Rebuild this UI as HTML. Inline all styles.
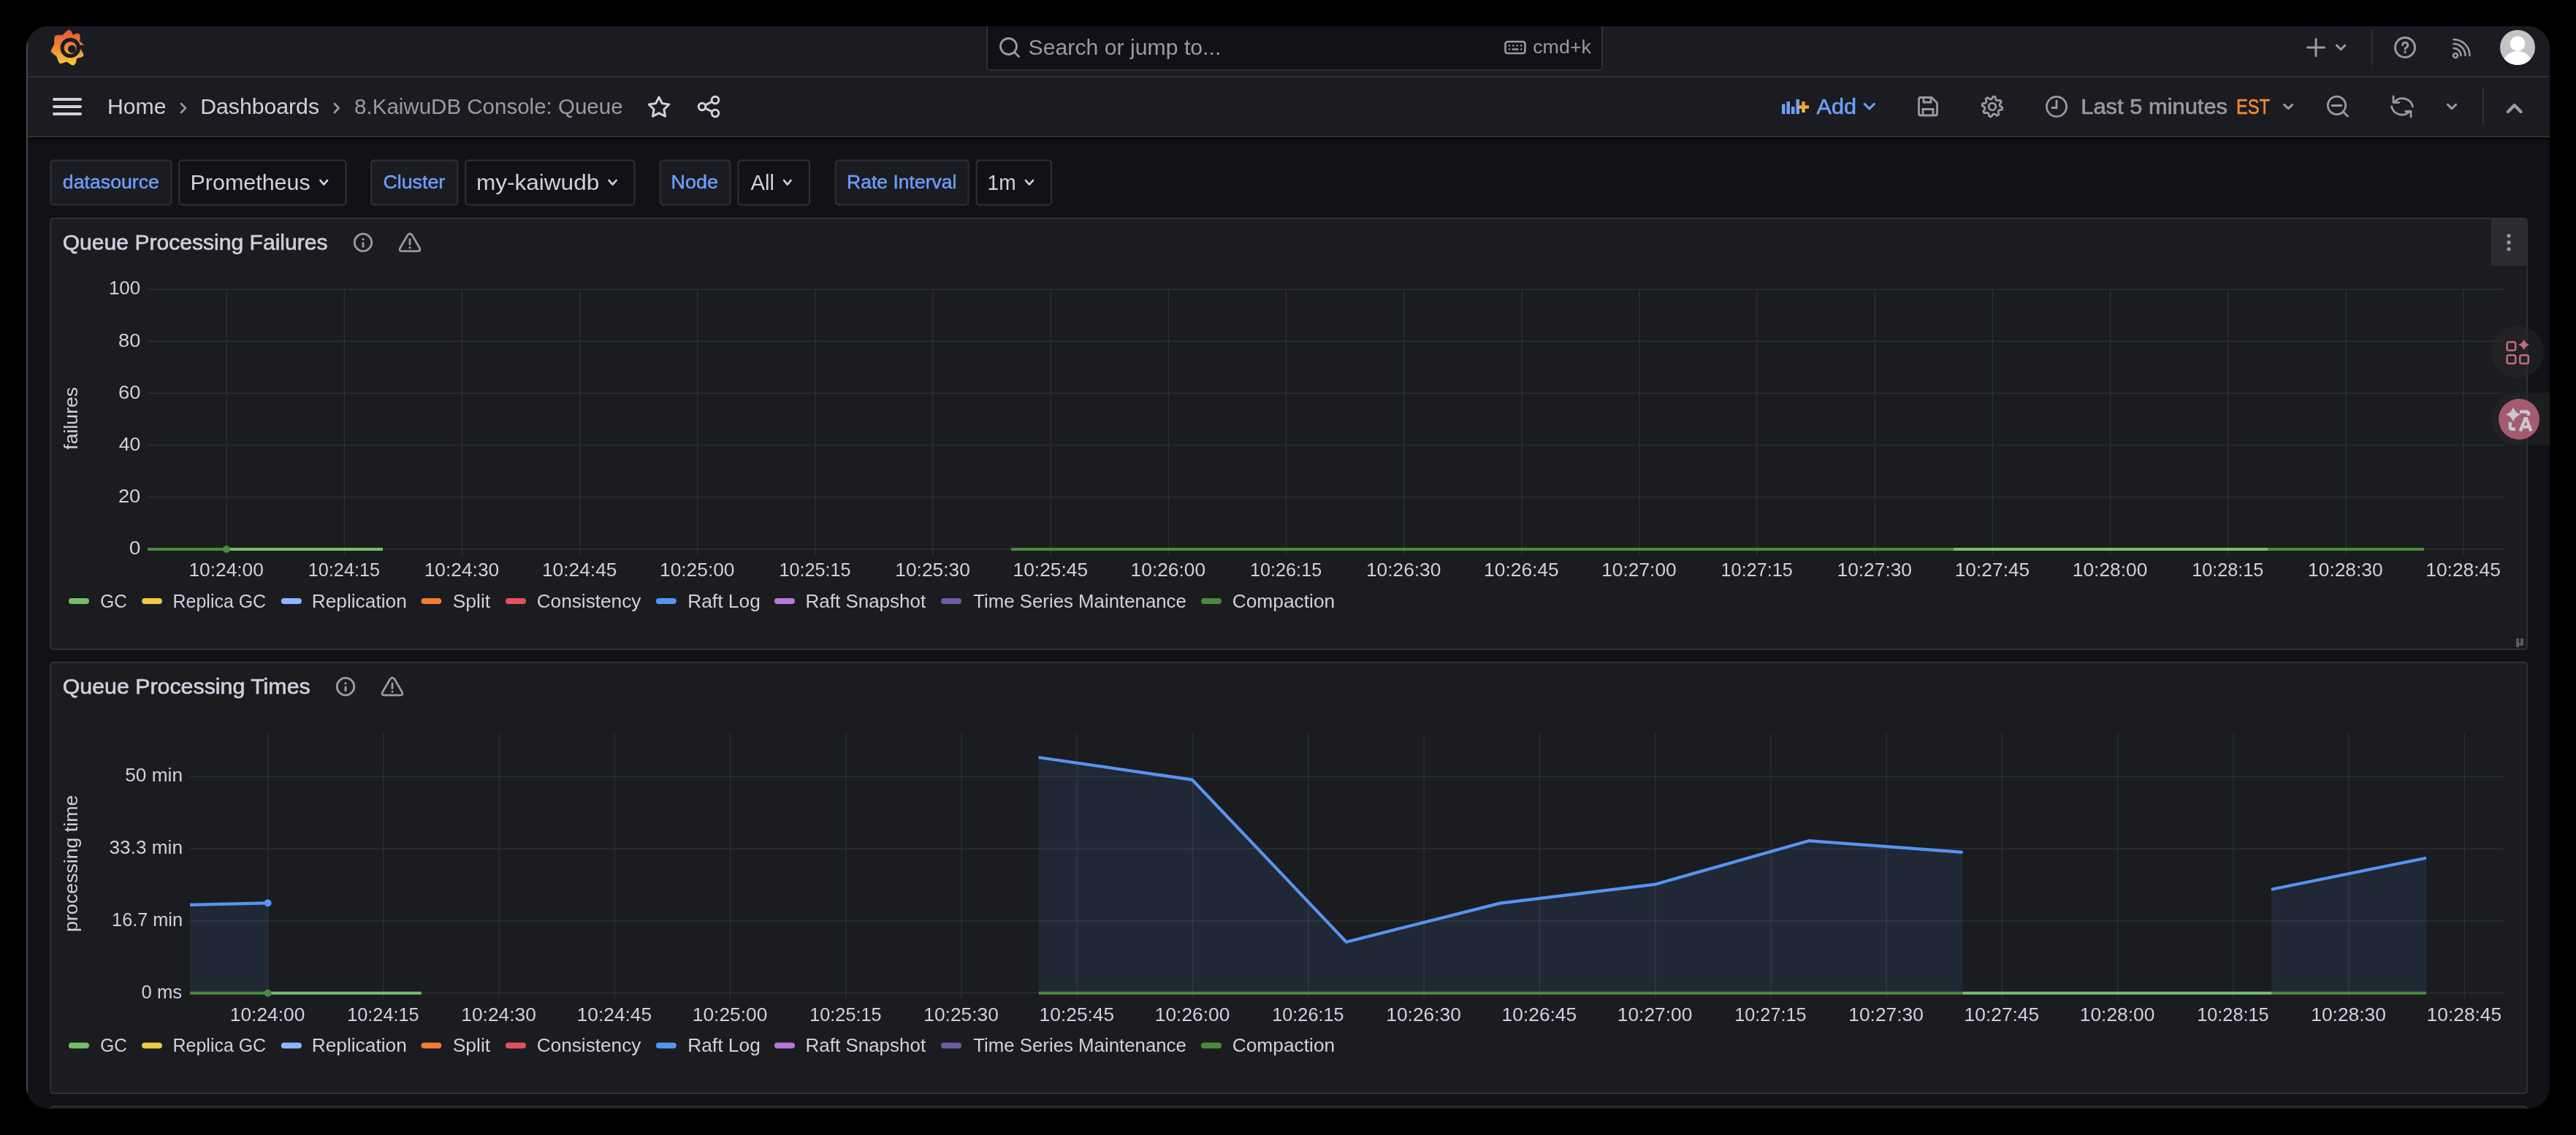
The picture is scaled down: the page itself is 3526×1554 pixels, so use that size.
<!DOCTYPE html>
<html><head><meta charset="utf-8"><style>
html,body{margin:0;padding:0;background:#000;overflow:hidden;}
svg{display:block;will-change:transform;font-family:"Liberation Sans",sans-serif;}
</style></head><body>
<svg width="3526" height="1554" viewBox="0 0 3526 1554">
<rect x="0" y="0" width="3526" height="1554" fill="#000000"/>
<defs><clipPath id="win"><rect x="36" y="36" width="3454" height="1482" rx="30" ry="30"/></clipPath><linearGradient id="logo" x1="0" y1="0" x2="0" y2="1"><stop offset="0" stop-color="#e4553a"/><stop offset="0.55" stop-color="#ef8f37"/><stop offset="1" stop-color="#f4cd3f"/></linearGradient><linearGradient id="addplus" x1="0" y1="0" x2="0" y2="1"><stop offset="0" stop-color="#f08a3a"/><stop offset="1" stop-color="#f5c33a"/></linearGradient><linearGradient id="shadow" x1="0" y1="0" x2="0" y2="1"><stop offset="0" stop-color="#000" stop-opacity="0.75"/><stop offset="0.4" stop-color="#000" stop-opacity="0.25"/><stop offset="1" stop-color="#000" stop-opacity="0"/></linearGradient></defs>
<g clip-path="url(#win)">
<rect x="36" y="36" width="3454" height="1482" fill="#111217"/>
<rect x="36" y="36" width="3454" height="150" fill="#1b1c21"/>
<rect x="36" y="104" width="3454" height="2" fill="#2f3035"/>
<rect x="36" y="186" width="3454" height="2" fill="#2f3035"/>
<rect x="36" y="188" width="3454" height="10" fill="url(#shadow)"/>
<rect x="36" y="36" width="2" height="1482" fill="#47474d"/>
<path d="M91.7 42.5 L94.6 41.1 L97.3 43.0 L99.6 48.4 L105.0 46.2 L108.2 46.7 L109.3 49.8 L108.7 56.5 L112.8 60.1 L114.8 62.4 L113.5 65.1 L110.7 68.6 L113.6 73.2 L113.9 76.4 L111.2 78.1 L104.8 79.4 L103.2 86.4 L101.1 89.0 L97.8 88.4 L91.4 84.0 L85.0 86.2 L81.8 86.4 L80.2 83.7 L77.9 76.9 L72.3 72.9 L70.1 70.7 L71.1 67.7 L74.7 60.6 L74.9 52.3 L75.6 49.2 L78.7 48.4 L86.0 48.2 Z" fill="url(#logo)" stroke="url(#logo)" stroke-width="1" stroke-linejoin="round"/>
<circle cx="96.3" cy="65.5" r="11.2" fill="none" stroke="#1b1c21" stroke-width="5.2"/>
<path d="M107 62 L115 61.5 L115 68 L107 67 Z" fill="#1b1c21"/>
<circle cx="98.4" cy="67.2" r="5.5" fill="#1b1c21"/>
<path d="M101 70 L104 75 L106 71 Z" fill="#1b1c21"/>
<rect x="1351" y="20" width="842" height="76" rx="4" fill="#111217" stroke="#2f3035" stroke-width="2"/>
<circle cx="1380.5" cy="63.5" r="11" fill="none" stroke="#9a9aa6" stroke-width="2.8"/>
<line x1="1388.5" y1="71.5" x2="1394.5" y2="77.5" stroke="#9a9aa6" stroke-width="2.8" stroke-linecap="round"/>
<text x="1407.6" y="75.4" font-size="29.5" fill="#9a9aa6" textLength="263.7" lengthAdjust="spacingAndGlyphs" >Search or jump to...</text>
<rect x="2060.5" y="57" width="27" height="16" rx="3" fill="none" stroke="#9a9aa6" stroke-width="2.6"/>
<circle cx="2066.0" cy="62.5" r="1.3" fill="#9a9aa6"/>
<circle cx="2071.4" cy="62.5" r="1.3" fill="#9a9aa6"/>
<circle cx="2076.8" cy="62.5" r="1.3" fill="#9a9aa6"/>
<circle cx="2082.2" cy="62.5" r="1.3" fill="#9a9aa6"/>
<circle cx="2066" cy="67.5" r="1.3" fill="#9a9aa6"/><circle cx="2082.3" cy="67.5" r="1.3" fill="#9a9aa6"/>
<line x1="2070.5" y1="67.5" x2="2077.5" y2="67.5" stroke="#9a9aa6" stroke-width="2.5" stroke-linecap="round"/>
<text x="2098.2" y="73.0" font-size="25.0" fill="#9a9aa6" textLength="79.8" lengthAdjust="spacingAndGlyphs" >cmd+k</text>
<path d="M3170 53.5 V76.5 M3158.5 65 H3181.5" stroke="#9a9aa6" stroke-width="3" stroke-linecap="round"/>
<path d="M3198.4 62.1 L3204.1 67.7 L3209.8 62.1" fill="none" stroke="#9a9aa6" stroke-width="3" stroke-linecap="round" stroke-linejoin="round"/>
<rect x="3246" y="41" width="2" height="48" fill="#2f3035"/>
<circle cx="3292" cy="65" r="13.5" fill="none" stroke="#9a9aa6" stroke-width="3"/>
<path d="M3288.6 61.8 a3.6 3.6 0 1 1 5 3.3 c-1.1 0.5 -1.5 1.1 -1.5 2.3" fill="none" stroke="#9a9aa6" stroke-width="2.8" stroke-linecap="round"/>
<circle cx="3292.1" cy="71.2" r="1.7" fill="#9a9aa6"/>
<circle cx="3361" cy="76" r="3" fill="none" stroke="#9a9aa6" stroke-width="2.6"/>
<path d="M3358.5 66.0 A10 10 0 0 1 3368.5 76" fill="none" stroke="#9a9aa6" stroke-width="2.6" stroke-linecap="round"/>
<path d="M3358.5 60.0 A16 16 0 0 1 3374.5 76" fill="none" stroke="#9a9aa6" stroke-width="2.6" stroke-linecap="round"/>
<path d="M3358.5 54.0 A22 22 0 0 1 3380.5 76" fill="none" stroke="#9a9aa6" stroke-width="2.6" stroke-linecap="round"/>
<clipPath id="av"><circle cx="3446" cy="65" r="24"/></clipPath>
<circle cx="3446" cy="65" r="24" fill="#c4c4c4"/>
<g clip-path="url(#av)"><circle cx="3446" cy="59.8" r="10.3" fill="#fff"/><ellipse cx="3446" cy="89.5" rx="20.5" ry="19.5" fill="#fff"/></g>
<line x1="74" y1="136" x2="110" y2="136" stroke="#d0d0de" stroke-width="4" stroke-linecap="round"/>
<line x1="74" y1="146" x2="110" y2="146" stroke="#d0d0de" stroke-width="4" stroke-linecap="round"/>
<line x1="74" y1="156" x2="110" y2="156" stroke="#d0d0de" stroke-width="4" stroke-linecap="round"/>
<text x="146.9" y="156.1" font-size="29.5" fill="#d0d0de" textLength="80.7" lengthAdjust="spacingAndGlyphs" >Home</text>
<path d="M248.0 142.0 L254.0 148.0 L248.0 154.0" fill="none" stroke="#9a9aa6" stroke-width="2.6" stroke-linecap="round" stroke-linejoin="round"/>
<text x="274.2" y="156.1" font-size="29.5" fill="#d0d0de" textLength="162.8" lengthAdjust="spacingAndGlyphs" >Dashboards</text>
<path d="M458.0 142.0 L463.6 148.0 L458.0 154.0" fill="none" stroke="#9a9aa6" stroke-width="2.6" stroke-linecap="round" stroke-linejoin="round"/>
<text x="485.1" y="156.1" font-size="29.5" fill="#9a9aa6" textLength="367.5" lengthAdjust="spacingAndGlyphs" >8.KaiwuDB Console: Queue</text>
<polygon points="902.0,133.0 906.3,141.6 915.8,143.0 908.9,149.8 910.5,159.2 902.0,154.8 893.5,159.2 895.1,149.8 888.2,143.0 897.7,141.6" fill="none" stroke="#d0d0de" stroke-width="3" stroke-linejoin="round"/>
<circle cx="979" cy="137" r="4.8" fill="none" stroke="#d0d0de" stroke-width="3"/>
<circle cx="961" cy="146" r="4.8" fill="none" stroke="#d0d0de" stroke-width="3"/>
<circle cx="979" cy="155" r="4.8" fill="none" stroke="#d0d0de" stroke-width="3"/>
<path d="M965.3 143.8 L974.7 139.2 M965.3 148.2 L974.7 152.8" stroke="#d0d0de" stroke-width="3"/>
<rect x="2439.0" y="142.5" width="4.5" height="13.5" fill="#6e9fff"/>
<rect x="2445.5" y="139" width="4.5" height="17" fill="#6e9fff"/>
<rect x="2452.0" y="146" width="4.5" height="10" fill="#6e9fff"/>
<rect x="2458.5" y="136" width="4.5" height="20" fill="#6e9fff"/>
<path d="M2468.5 139 V154 M2461 146.5 H2476" stroke="url(#addplus)" stroke-width="4.5"/>
<text x="2486.6" y="156.0" font-size="29.5" fill="#6e9fff" textLength="54.5" lengthAdjust="spacingAndGlyphs" stroke="#6e9fff" stroke-width="0.6" >Add</text>
<path d="M2552.1 142.4 L2558.8 149.0 L2565.4 142.4" fill="none" stroke="#6e9fff" stroke-width="3" stroke-linecap="round" stroke-linejoin="round"/>
<path d="M2628 133.5 H2644 L2651.5 141 V155.5 a2.5 2.5 0 0 1 -2.5 2.5 H2629 a2.5 2.5 0 0 1 -2.5 -2.5 V136 a2.5 2.5 0 0 1 2.5 -2.5 Z" fill="none" stroke="#9a9aa6" stroke-width="2.8" stroke-linejoin="round"/>
<path d="M2633 134 V140 H2643 V134 M2632 157 V149.5 H2646 V157" fill="none" stroke="#9a9aa6" stroke-width="2.8"/>
<polygon points="2740.9,147.4 2740.4,150.1 2736.3,150.9 2735.1,152.7 2735.9,156.8 2733.6,158.3 2730.0,156.0 2728.0,156.4 2725.6,159.9 2722.9,159.4 2722.1,155.3 2720.3,154.1 2716.2,154.9 2714.7,152.6 2717.0,149.0 2716.6,147.0 2713.1,144.6 2713.6,141.9 2717.7,141.1 2718.9,139.3 2718.1,135.2 2720.4,133.7 2724.0,136.0 2726.0,135.6 2728.4,132.1 2731.1,132.6 2731.9,136.7 2733.7,137.9 2737.8,137.1 2739.3,139.4 2737.0,143.0 2737.4,145.0" fill="none" stroke="#9a9aa6" stroke-width="2.8" stroke-linejoin="round"/>
<circle cx="2727" cy="146" r="4.8" fill="none" stroke="#9a9aa6" stroke-width="2.8"/>
<circle cx="2815" cy="146" r="13.6" fill="none" stroke="#9a9aa6" stroke-width="2.8"/>
<path d="M2815 138 V147.5 H2809" fill="none" stroke="#9a9aa6" stroke-width="2.8" stroke-linecap="round"/>
<text x="2848.3" y="156.3" font-size="29.5" fill="#9a9aa6" textLength="200.7" lengthAdjust="spacingAndGlyphs" stroke="#9a9aa6" stroke-width="0.6" >Last 5 minutes</text>
<text x="3060.9" y="156.3" font-size="29.5" fill="#ee8b38" textLength="46.1" lengthAdjust="spacingAndGlyphs" stroke="#ee8b38" stroke-width="0.6" >EST</text>
<path d="M3126.6 143.4 L3132.2 148.6 L3137.8 143.4" fill="none" stroke="#9a9aa6" stroke-width="3" stroke-linecap="round" stroke-linejoin="round"/>
<circle cx="3198.5" cy="144.3" r="12.2" fill="none" stroke="#9a9aa6" stroke-width="2.8"/>
<path d="M3207.5 153.3 L3213.5 159.3 M3192 144.5 H3205" stroke="#9a9aa6" stroke-width="2.8" stroke-linecap="round"/>
<path d="M3276 132 V140.3 H3283.7 M3300 160 V152.5 H3292.7" fill="none" stroke="#9a9aa6" stroke-width="2.8" stroke-linecap="round" stroke-linejoin="round"/><path d="M3277.3 139.8 A14.5 14.5 0 0 1 3302.5 146 M3273.5 145.8 A14.5 14.5 0 0 0 3298.7 152" fill="none" stroke="#9a9aa6" stroke-width="2.8" stroke-linecap="round"/>
<path d="M3350.4 143.1 L3356.0 148.7 L3361.6 143.1" fill="none" stroke="#9a9aa6" stroke-width="3" stroke-linecap="round" stroke-linejoin="round"/>
<rect x="3398" y="122" width="2" height="48" fill="#2f3035"/>
<path d="M3433 153 L3441.7 144 L3450.5 153" fill="none" stroke="#9a9aa6" stroke-width="4.4" stroke-linecap="round" stroke-linejoin="round"/>
<rect x="69.5" y="219.5" width="165.1" height="61" rx="4" fill="#1b1c21" stroke="#2f3035" stroke-width="2"/>
<text x="85.8" y="258.2" font-size="26.3" fill="#6e9fff" textLength="132.2" lengthAdjust="spacingAndGlyphs" stroke="#6e9fff" stroke-width="0.45" >datasource</text>
<rect x="245.3" y="219.5" width="228.2" height="61" rx="4" fill="#111217" stroke="#2f3035" stroke-width="2"/>
<text x="260.5" y="259.7" font-size="29.5" fill="#d0d0de" textLength="164.2" lengthAdjust="spacingAndGlyphs" >Prometheus</text>
<path d="M438.4 246.9 L443.2 252.6 L448.1 246.9" fill="none" stroke="#d0d0de" stroke-width="2.6" stroke-linecap="round" stroke-linejoin="round"/>
<rect x="508" y="219.5" width="118.39999999999998" height="61" rx="4" fill="#1b1c21" stroke="#2f3035" stroke-width="2"/>
<text x="524.4" y="258.2" font-size="26.3" fill="#6e9fff" textLength="84.9" lengthAdjust="spacingAndGlyphs" stroke="#6e9fff" stroke-width="0.45" >Cluster</text>
<rect x="637.3" y="219.5" width="231.10000000000002" height="61" rx="4" fill="#111217" stroke="#2f3035" stroke-width="2"/>
<text x="651.9" y="259.7" font-size="29.5" fill="#d0d0de" textLength="168.4" lengthAdjust="spacingAndGlyphs" >my-kaiwudb</text>
<path d="M833.4 246.9 L838.5 252.6 L843.6 246.9" fill="none" stroke="#d0d0de" stroke-width="2.6" stroke-linecap="round" stroke-linejoin="round"/>
<rect x="903.7" y="219.5" width="95.79999999999995" height="61" rx="4" fill="#1b1c21" stroke="#2f3035" stroke-width="2"/>
<text x="918.6" y="258.2" font-size="26.3" fill="#6e9fff" textLength="64.4" lengthAdjust="spacingAndGlyphs" stroke="#6e9fff" stroke-width="0.45" >Node</text>
<rect x="1010.6" y="219.5" width="97.39999999999998" height="61" rx="4" fill="#111217" stroke="#2f3035" stroke-width="2"/>
<text x="1027.5" y="259.7" font-size="29.5" fill="#d0d0de" textLength="32.4" lengthAdjust="spacingAndGlyphs" >All</text>
<path d="M1073.0 246.9 L1077.8 252.6 L1082.6 246.9" fill="none" stroke="#d0d0de" stroke-width="2.6" stroke-linecap="round" stroke-linejoin="round"/>
<rect x="1143.7" y="219.5" width="181.89999999999986" height="61" rx="4" fill="#1b1c21" stroke="#2f3035" stroke-width="2"/>
<text x="1159.0" y="258.2" font-size="26.3" fill="#6e9fff" textLength="150.5" lengthAdjust="spacingAndGlyphs" stroke="#6e9fff" stroke-width="0.45" >Rate Interval</text>
<rect x="1336.7" y="219.5" width="102.29999999999995" height="61" rx="4" fill="#111217" stroke="#2f3035" stroke-width="2"/>
<text x="1351.5" y="259.7" font-size="29.5" fill="#d0d0de" textLength="39.1" lengthAdjust="spacingAndGlyphs" >1m</text>
<path d="M1403.9 246.9 L1409.0 252.6 L1414.1 246.9" fill="none" stroke="#d0d0de" stroke-width="2.6" stroke-linecap="round" stroke-linejoin="round"/>
<rect x="69" y="299" width="3390" height="590" rx="4" fill="#1b1c20" stroke="#2f3035" stroke-width="2"/>
<text x="85.7" y="341.7" font-size="29.5" fill="#d0d0de" textLength="362.9" lengthAdjust="spacingAndGlyphs" stroke="#d0d0de" stroke-width="0.6" >Queue Processing Failures</text>
<circle cx="497" cy="332" r="11.8" fill="none" stroke="#9a9aa6" stroke-width="2.8"/>
<circle cx="497" cy="327.6" r="1.7" fill="#9a9aa6"/>
<line x1="497" y1="332.8" x2="497" y2="337.6" stroke="#9a9aa6" stroke-width="3" stroke-linecap="round"/>
<path d="M557.8 322.1 Q561.0 317.5 564.2 322.1 L574.2 339.2 Q576.6 344.0 571.5 343.8 L550.5 343.8 Q545.4 344.0 547.8 339.2 Z" fill="none" stroke="#9a9aa6" stroke-width="2.8" stroke-linejoin="round"/>
<line x1="561.0" y1="328" x2="561.0" y2="334.5" stroke="#9a9aa6" stroke-width="2.8" stroke-linecap="round"/>
<circle cx="561.0" cy="339" r="1.6" fill="#9a9aa6"/>
<path d="M3410 300 H3458 V360 a4 4 0 0 1 -4 4 H3414 a4 4 0 0 1 -4 -4 Z" fill="#2c2d33"/>
<circle cx="3434" cy="322.8" r="2.6" fill="#9a9aa6"/>
<circle cx="3434" cy="331.9" r="2.6" fill="#9a9aa6"/>
<circle cx="3434" cy="341" r="2.6" fill="#9a9aa6"/>
<path d="M3446 874 V884 H3444" fill="none" stroke="#5a5a5e" stroke-width="4"/>
<rect x="3444" y="880" width="10" height="4" fill="#5a5a5e"/><rect x="3450" y="874" width="4" height="10" fill="#5a5a5e"/>
<rect x="69" y="907" width="3390" height="590" rx="4" fill="#1b1c20" stroke="#2f3035" stroke-width="2"/>
<text x="85.7" y="949.9" font-size="29.5" fill="#d0d0de" textLength="339.0" lengthAdjust="spacingAndGlyphs" stroke="#d0d0de" stroke-width="0.6" >Queue Processing Times</text>
<circle cx="473" cy="940" r="11.8" fill="none" stroke="#9a9aa6" stroke-width="2.8"/>
<circle cx="473" cy="935.6" r="1.7" fill="#9a9aa6"/>
<line x1="473" y1="940.8" x2="473" y2="945.6" stroke="#9a9aa6" stroke-width="3" stroke-linecap="round"/>
<path d="M533.8 930.1 Q537.0 925.5 540.2 930.1 L550.2 947.2 Q552.6 952.0 547.5 951.8 L526.5 951.8 Q521.4 952.0 523.8 947.2 Z" fill="none" stroke="#9a9aa6" stroke-width="2.8" stroke-linejoin="round"/>
<line x1="537.0" y1="936" x2="537.0" y2="942.5" stroke="#9a9aa6" stroke-width="2.8" stroke-linecap="round"/>
<circle cx="537.0" cy="947" r="1.6" fill="#9a9aa6"/>
<rect x="69" y="1515" width="3390" height="84" rx="4" fill="#1b1c20" stroke="#2f3035" stroke-width="2"/>
<rect x="202" y="395.4" width="3224" height="1.5" fill="#2c2f33"/>
<text x="148.9" y="403.4" font-size="25.0" fill="#d0d0de" textLength="43.4" lengthAdjust="spacingAndGlyphs" >100</text>
<rect x="202" y="466.5" width="3224" height="1.5" fill="#2c2f33"/>
<text x="162.1" y="474.5" font-size="25.0" fill="#d0d0de" textLength="30.2" lengthAdjust="spacingAndGlyphs" >80</text>
<rect x="202" y="537.6" width="3224" height="1.5" fill="#2c2f33"/>
<text x="161.9" y="545.6" font-size="25.0" fill="#d0d0de" textLength="30.5" lengthAdjust="spacingAndGlyphs" >60</text>
<rect x="202" y="608.8" width="3224" height="1.5" fill="#2c2f33"/>
<text x="162.7" y="616.8" font-size="25.0" fill="#d0d0de" textLength="29.7" lengthAdjust="spacingAndGlyphs" >40</text>
<rect x="202" y="679.9" width="3224" height="1.5" fill="#2c2f33"/>
<text x="161.9" y="687.9" font-size="25.0" fill="#d0d0de" textLength="30.4" lengthAdjust="spacingAndGlyphs" >20</text>
<rect x="202" y="751" width="3224" height="1.5" fill="#2c2f33"/>
<text x="176.7" y="759.0" font-size="25.0" fill="#d0d0de" textLength="15.7" lengthAdjust="spacingAndGlyphs" >0</text>
<rect x="309.45" y="396.4" width="1.5" height="363.6" fill="#2c2f33"/>
<text x="258.4" y="788.8" font-size="25.0" fill="#d0d0de" textLength="102.5" lengthAdjust="spacingAndGlyphs" >10:24:00</text>
<rect x="470.60" y="396.4" width="1.5" height="363.6" fill="#2c2f33"/>
<text x="421.8" y="788.8" font-size="25.0" fill="#d0d0de" textLength="98.2" lengthAdjust="spacingAndGlyphs" >10:24:15</text>
<rect x="631.75" y="396.4" width="1.5" height="363.6" fill="#2c2f33"/>
<text x="580.7" y="788.8" font-size="25.0" fill="#d0d0de" textLength="102.5" lengthAdjust="spacingAndGlyphs" >10:24:30</text>
<rect x="792.90" y="396.4" width="1.5" height="363.6" fill="#2c2f33"/>
<text x="741.9" y="788.8" font-size="25.0" fill="#d0d0de" textLength="102.6" lengthAdjust="spacingAndGlyphs" >10:24:45</text>
<rect x="954.05" y="396.4" width="1.5" height="363.6" fill="#2c2f33"/>
<text x="903.0" y="788.8" font-size="25.0" fill="#d0d0de" textLength="102.5" lengthAdjust="spacingAndGlyphs" >10:25:00</text>
<rect x="1115.20" y="396.4" width="1.5" height="363.6" fill="#2c2f33"/>
<text x="1066.4" y="788.8" font-size="25.0" fill="#d0d0de" textLength="98.2" lengthAdjust="spacingAndGlyphs" >10:25:15</text>
<rect x="1276.35" y="396.4" width="1.5" height="363.6" fill="#2c2f33"/>
<text x="1225.3" y="788.8" font-size="25.0" fill="#d0d0de" textLength="102.5" lengthAdjust="spacingAndGlyphs" >10:25:30</text>
<rect x="1437.50" y="396.4" width="1.5" height="363.6" fill="#2c2f33"/>
<text x="1386.5" y="788.8" font-size="25.0" fill="#d0d0de" textLength="102.6" lengthAdjust="spacingAndGlyphs" >10:25:45</text>
<rect x="1598.65" y="396.4" width="1.5" height="363.6" fill="#2c2f33"/>
<text x="1547.6" y="788.8" font-size="25.0" fill="#d0d0de" textLength="102.5" lengthAdjust="spacingAndGlyphs" >10:26:00</text>
<rect x="1759.80" y="396.4" width="1.5" height="363.6" fill="#2c2f33"/>
<text x="1711.0" y="788.8" font-size="25.0" fill="#d0d0de" textLength="98.2" lengthAdjust="spacingAndGlyphs" >10:26:15</text>
<rect x="1920.95" y="396.4" width="1.5" height="363.6" fill="#2c2f33"/>
<text x="1869.9" y="788.8" font-size="25.0" fill="#d0d0de" textLength="102.5" lengthAdjust="spacingAndGlyphs" >10:26:30</text>
<rect x="2082.10" y="396.4" width="1.5" height="363.6" fill="#2c2f33"/>
<text x="2031.1" y="788.8" font-size="25.0" fill="#d0d0de" textLength="102.6" lengthAdjust="spacingAndGlyphs" >10:26:45</text>
<rect x="2243.25" y="396.4" width="1.5" height="363.6" fill="#2c2f33"/>
<text x="2192.2" y="788.8" font-size="25.0" fill="#d0d0de" textLength="102.5" lengthAdjust="spacingAndGlyphs" >10:27:00</text>
<rect x="2404.40" y="396.4" width="1.5" height="363.6" fill="#2c2f33"/>
<text x="2355.6" y="788.8" font-size="25.0" fill="#d0d0de" textLength="98.2" lengthAdjust="spacingAndGlyphs" >10:27:15</text>
<rect x="2565.55" y="396.4" width="1.5" height="363.6" fill="#2c2f33"/>
<text x="2514.5" y="788.8" font-size="25.0" fill="#d0d0de" textLength="102.5" lengthAdjust="spacingAndGlyphs" >10:27:30</text>
<rect x="2726.70" y="396.4" width="1.5" height="363.6" fill="#2c2f33"/>
<text x="2675.7" y="788.8" font-size="25.0" fill="#d0d0de" textLength="102.6" lengthAdjust="spacingAndGlyphs" >10:27:45</text>
<rect x="2887.85" y="396.4" width="1.5" height="363.6" fill="#2c2f33"/>
<text x="2836.8" y="788.8" font-size="25.0" fill="#d0d0de" textLength="102.5" lengthAdjust="spacingAndGlyphs" >10:28:00</text>
<rect x="3049.00" y="396.4" width="1.5" height="363.6" fill="#2c2f33"/>
<text x="3000.2" y="788.8" font-size="25.0" fill="#d0d0de" textLength="98.2" lengthAdjust="spacingAndGlyphs" >10:28:15</text>
<rect x="3210.15" y="396.4" width="1.5" height="363.6" fill="#2c2f33"/>
<text x="3159.1" y="788.8" font-size="25.0" fill="#d0d0de" textLength="102.5" lengthAdjust="spacingAndGlyphs" >10:28:30</text>
<rect x="3371.30" y="396.4" width="1.5" height="363.6" fill="#2c2f33"/>
<text x="3320.3" y="788.8" font-size="25.0" fill="#d0d0de" textLength="102.6" lengthAdjust="spacingAndGlyphs" >10:28:45</text>
<line x1="98" y1="822.9" x2="118" y2="822.9" stroke="#79bd6b" stroke-width="8" stroke-linecap="round"/>
<text x="137.2" y="831.9" font-size="25.0" fill="#d0d0de" textLength="36.6" lengthAdjust="spacingAndGlyphs" >GC</text>
<line x1="198.2" y1="822.9" x2="217.9" y2="822.9" stroke="#eecb45" stroke-width="8" stroke-linecap="round"/>
<text x="236.6" y="831.9" font-size="25.0" fill="#d0d0de" textLength="127.5" lengthAdjust="spacingAndGlyphs" >Replica GC</text>
<line x1="388.8" y1="822.9" x2="408.9" y2="822.9" stroke="#8ab8ff" stroke-width="8" stroke-linecap="round"/>
<text x="426.7" y="831.9" font-size="25.0" fill="#d0d0de" textLength="130.1" lengthAdjust="spacingAndGlyphs" >Replication</text>
<line x1="580.5" y1="822.9" x2="600.2" y2="822.9" stroke="#f07d35" stroke-width="8" stroke-linecap="round"/>
<text x="619.7" y="831.9" font-size="25.0" fill="#d0d0de" textLength="51.5" lengthAdjust="spacingAndGlyphs" >Split</text>
<line x1="696" y1="822.9" x2="716" y2="822.9" stroke="#e5505f" stroke-width="8" stroke-linecap="round"/>
<text x="734.7" y="831.9" font-size="25.0" fill="#d0d0de" textLength="142.7" lengthAdjust="spacingAndGlyphs" >Consistency</text>
<line x1="901.9" y1="822.9" x2="921.8" y2="822.9" stroke="#5794f2" stroke-width="8" stroke-linecap="round"/>
<text x="941.2" y="831.9" font-size="25.0" fill="#d0d0de" textLength="99.6" lengthAdjust="spacingAndGlyphs" >Raft Log</text>
<line x1="1064" y1="822.9" x2="1084" y2="822.9" stroke="#b877d9" stroke-width="8" stroke-linecap="round"/>
<text x="1102.6" y="831.9" font-size="25.0" fill="#d0d0de" textLength="164.5" lengthAdjust="spacingAndGlyphs" >Raft Snapshot</text>
<line x1="1292" y1="822.9" x2="1312" y2="822.9" stroke="#705da0" stroke-width="8" stroke-linecap="round"/>
<text x="1332.2" y="831.9" font-size="25.0" fill="#d0d0de" textLength="291.7" lengthAdjust="spacingAndGlyphs" >Time Series Maintenance</text>
<line x1="1648" y1="822.9" x2="1668" y2="822.9" stroke="#4a8a3d" stroke-width="8" stroke-linecap="round"/>
<text x="1686.7" y="831.9" font-size="25.0" fill="#d0d0de" textLength="140.5" lengthAdjust="spacingAndGlyphs" >Compaction</text>
<g transform="rotate(-90 96 573)">
<text x="53.3" y="583.0" font-size="25.0" fill="#d0d0de" textLength="85.9" lengthAdjust="spacingAndGlyphs" >failures</text>
</g>
<line x1="202" y1="752" x2="310" y2="752" stroke="#4a8a3d" stroke-width="4"/>
<line x1="310" y1="752" x2="524" y2="752" stroke="#79bd6b" stroke-width="4"/>
<circle cx="310" cy="752" r="5" fill="#4a8a3d"/>
<line x1="1384" y1="752" x2="2674" y2="752" stroke="#4a8a3d" stroke-width="4"/>
<line x1="2674" y1="752" x2="3104" y2="752" stroke="#79bd6b" stroke-width="4"/>
<line x1="3104" y1="752" x2="3318" y2="752" stroke="#4a8a3d" stroke-width="4"/>
<rect x="260" y="1062.4" width="3166.3" height="1.5" fill="#2c2f33"/>
<text x="171.2" y="1070.4" font-size="25.0" fill="#d0d0de" textLength="78.8" lengthAdjust="spacingAndGlyphs" >50 min</text>
<rect x="260" y="1161.2" width="3166.3" height="1.5" fill="#2c2f33"/>
<text x="149.5" y="1169.2" font-size="25.0" fill="#d0d0de" textLength="100.5" lengthAdjust="spacingAndGlyphs" >33.3 min</text>
<rect x="260" y="1260.1" width="3166.3" height="1.5" fill="#2c2f33"/>
<text x="153.1" y="1268.1" font-size="25.0" fill="#d0d0de" textLength="96.9" lengthAdjust="spacingAndGlyphs" >16.7 min</text>
<rect x="260" y="1358.8" width="3166.3" height="1.5" fill="#2c2f33"/>
<text x="193.5" y="1366.8" font-size="25.0" fill="#d0d0de" textLength="55.7" lengthAdjust="spacingAndGlyphs" >0 ms</text>
<rect x="365.85" y="1004.2" width="1.5" height="363.6" fill="#2c2f33"/>
<text x="314.8" y="1397.5" font-size="25.0" fill="#d0d0de" textLength="102.5" lengthAdjust="spacingAndGlyphs" >10:24:00</text>
<rect x="524.10" y="1004.2" width="1.5" height="363.6" fill="#2c2f33"/>
<text x="475.3" y="1397.5" font-size="25.0" fill="#d0d0de" textLength="98.2" lengthAdjust="spacingAndGlyphs" >10:24:15</text>
<rect x="682.35" y="1004.2" width="1.5" height="363.6" fill="#2c2f33"/>
<text x="631.3" y="1397.5" font-size="25.0" fill="#d0d0de" textLength="102.5" lengthAdjust="spacingAndGlyphs" >10:24:30</text>
<rect x="840.60" y="1004.2" width="1.5" height="363.6" fill="#2c2f33"/>
<text x="789.6" y="1397.5" font-size="25.0" fill="#d0d0de" textLength="102.6" lengthAdjust="spacingAndGlyphs" >10:24:45</text>
<rect x="998.85" y="1004.2" width="1.5" height="363.6" fill="#2c2f33"/>
<text x="947.8" y="1397.5" font-size="25.0" fill="#d0d0de" textLength="102.5" lengthAdjust="spacingAndGlyphs" >10:25:00</text>
<rect x="1157.10" y="1004.2" width="1.5" height="363.6" fill="#2c2f33"/>
<text x="1108.3" y="1397.5" font-size="25.0" fill="#d0d0de" textLength="98.2" lengthAdjust="spacingAndGlyphs" >10:25:15</text>
<rect x="1315.35" y="1004.2" width="1.5" height="363.6" fill="#2c2f33"/>
<text x="1264.3" y="1397.5" font-size="25.0" fill="#d0d0de" textLength="102.5" lengthAdjust="spacingAndGlyphs" >10:25:30</text>
<rect x="1473.60" y="1004.2" width="1.5" height="363.6" fill="#2c2f33"/>
<text x="1422.6" y="1397.5" font-size="25.0" fill="#d0d0de" textLength="102.6" lengthAdjust="spacingAndGlyphs" >10:25:45</text>
<rect x="1631.85" y="1004.2" width="1.5" height="363.6" fill="#2c2f33"/>
<text x="1580.8" y="1397.5" font-size="25.0" fill="#d0d0de" textLength="102.5" lengthAdjust="spacingAndGlyphs" >10:26:00</text>
<rect x="1790.10" y="1004.2" width="1.5" height="363.6" fill="#2c2f33"/>
<text x="1741.3" y="1397.5" font-size="25.0" fill="#d0d0de" textLength="98.2" lengthAdjust="spacingAndGlyphs" >10:26:15</text>
<rect x="1948.35" y="1004.2" width="1.5" height="363.6" fill="#2c2f33"/>
<text x="1897.3" y="1397.5" font-size="25.0" fill="#d0d0de" textLength="102.5" lengthAdjust="spacingAndGlyphs" >10:26:30</text>
<rect x="2106.60" y="1004.2" width="1.5" height="363.6" fill="#2c2f33"/>
<text x="2055.6" y="1397.5" font-size="25.0" fill="#d0d0de" textLength="102.6" lengthAdjust="spacingAndGlyphs" >10:26:45</text>
<rect x="2264.85" y="1004.2" width="1.5" height="363.6" fill="#2c2f33"/>
<text x="2213.8" y="1397.5" font-size="25.0" fill="#d0d0de" textLength="102.5" lengthAdjust="spacingAndGlyphs" >10:27:00</text>
<rect x="2423.10" y="1004.2" width="1.5" height="363.6" fill="#2c2f33"/>
<text x="2374.3" y="1397.5" font-size="25.0" fill="#d0d0de" textLength="98.2" lengthAdjust="spacingAndGlyphs" >10:27:15</text>
<rect x="2581.35" y="1004.2" width="1.5" height="363.6" fill="#2c2f33"/>
<text x="2530.3" y="1397.5" font-size="25.0" fill="#d0d0de" textLength="102.5" lengthAdjust="spacingAndGlyphs" >10:27:30</text>
<rect x="2739.60" y="1004.2" width="1.5" height="363.6" fill="#2c2f33"/>
<text x="2688.6" y="1397.5" font-size="25.0" fill="#d0d0de" textLength="102.6" lengthAdjust="spacingAndGlyphs" >10:27:45</text>
<rect x="2897.85" y="1004.2" width="1.5" height="363.6" fill="#2c2f33"/>
<text x="2846.8" y="1397.5" font-size="25.0" fill="#d0d0de" textLength="102.5" lengthAdjust="spacingAndGlyphs" >10:28:00</text>
<rect x="3056.10" y="1004.2" width="1.5" height="363.6" fill="#2c2f33"/>
<text x="3007.3" y="1397.5" font-size="25.0" fill="#d0d0de" textLength="98.2" lengthAdjust="spacingAndGlyphs" >10:28:15</text>
<rect x="3214.35" y="1004.2" width="1.5" height="363.6" fill="#2c2f33"/>
<text x="3163.3" y="1397.5" font-size="25.0" fill="#d0d0de" textLength="102.5" lengthAdjust="spacingAndGlyphs" >10:28:30</text>
<rect x="3372.60" y="1004.2" width="1.5" height="363.6" fill="#2c2f33"/>
<text x="3321.6" y="1397.5" font-size="25.0" fill="#d0d0de" textLength="102.6" lengthAdjust="spacingAndGlyphs" >10:28:45</text>
<line x1="98" y1="1431.4" x2="118" y2="1431.4" stroke="#79bd6b" stroke-width="8" stroke-linecap="round"/>
<text x="137.2" y="1440.4" font-size="25.0" fill="#d0d0de" textLength="36.6" lengthAdjust="spacingAndGlyphs" >GC</text>
<line x1="198.2" y1="1431.4" x2="217.9" y2="1431.4" stroke="#eecb45" stroke-width="8" stroke-linecap="round"/>
<text x="236.6" y="1440.4" font-size="25.0" fill="#d0d0de" textLength="127.5" lengthAdjust="spacingAndGlyphs" >Replica GC</text>
<line x1="388.8" y1="1431.4" x2="408.9" y2="1431.4" stroke="#8ab8ff" stroke-width="8" stroke-linecap="round"/>
<text x="426.7" y="1440.4" font-size="25.0" fill="#d0d0de" textLength="130.1" lengthAdjust="spacingAndGlyphs" >Replication</text>
<line x1="580.5" y1="1431.4" x2="600.2" y2="1431.4" stroke="#f07d35" stroke-width="8" stroke-linecap="round"/>
<text x="619.7" y="1440.4" font-size="25.0" fill="#d0d0de" textLength="51.5" lengthAdjust="spacingAndGlyphs" >Split</text>
<line x1="696" y1="1431.4" x2="716" y2="1431.4" stroke="#e5505f" stroke-width="8" stroke-linecap="round"/>
<text x="734.7" y="1440.4" font-size="25.0" fill="#d0d0de" textLength="142.7" lengthAdjust="spacingAndGlyphs" >Consistency</text>
<line x1="901.9" y1="1431.4" x2="921.8" y2="1431.4" stroke="#5794f2" stroke-width="8" stroke-linecap="round"/>
<text x="941.2" y="1440.4" font-size="25.0" fill="#d0d0de" textLength="99.6" lengthAdjust="spacingAndGlyphs" >Raft Log</text>
<line x1="1064" y1="1431.4" x2="1084" y2="1431.4" stroke="#b877d9" stroke-width="8" stroke-linecap="round"/>
<text x="1102.6" y="1440.4" font-size="25.0" fill="#d0d0de" textLength="164.5" lengthAdjust="spacingAndGlyphs" >Raft Snapshot</text>
<line x1="1292" y1="1431.4" x2="1312" y2="1431.4" stroke="#705da0" stroke-width="8" stroke-linecap="round"/>
<text x="1332.2" y="1440.4" font-size="25.0" fill="#d0d0de" textLength="291.7" lengthAdjust="spacingAndGlyphs" >Time Series Maintenance</text>
<line x1="1648" y1="1431.4" x2="1668" y2="1431.4" stroke="#4a8a3d" stroke-width="8" stroke-linecap="round"/>
<text x="1686.7" y="1440.4" font-size="25.0" fill="#d0d0de" textLength="140.5" lengthAdjust="spacingAndGlyphs" >Compaction</text>
<g transform="rotate(-90 99 1182)">
<text x="5.1" y="1188.5" font-size="25.0" fill="#d0d0de" textLength="187.3" lengthAdjust="spacingAndGlyphs" >processing time</text>
</g>
<path d="M260.0 1238.9 L366.6 1236.4 L366.6 1359.8 L260.0 1359.8 Z" fill="rgba(87,148,242,0.10)"/>
<path d="M260.0 1238.9 L366.6 1236.4" fill="none" stroke="#5794f2" stroke-width="4.2" stroke-linejoin="round"/>
<circle cx="366.6" cy="1236.4" r="5" fill="#5794f2"/>
<path d="M1421.6 1037.0 L1632.0 1067.7 L1842.8 1289.7 L2053.4 1236.6 L2265.2 1210.9 L2475.8 1151.2 L2686.6 1166.8 L2686.6 1359.8 L1421.6 1359.8 Z" fill="rgba(87,148,242,0.10)"/>
<path d="M1421.6 1037.0 L1632.0 1067.7 L1842.8 1289.7 L2053.4 1236.6 L2265.2 1210.9 L2475.8 1151.2 L2686.6 1166.8" fill="none" stroke="#5794f2" stroke-width="4.2" stroke-linejoin="round"/>
<path d="M3109.0 1217.8 L3321.0 1174.7 L3321.0 1359.8 L3109.0 1359.8 Z" fill="rgba(87,148,242,0.10)"/>
<path d="M3109.0 1217.8 L3321.0 1174.7" fill="none" stroke="#5794f2" stroke-width="4.2" stroke-linejoin="round"/>
<line x1="260" y1="1359.8" x2="366.6" y2="1359.8" stroke="#4a8a3d" stroke-width="4"/>
<line x1="366.6" y1="1359.8" x2="576.7" y2="1359.8" stroke="#79bd6b" stroke-width="4"/>
<circle cx="366.6" cy="1359.8" r="5" fill="#4a8a3d"/>
<line x1="1421.6" y1="1359.8" x2="2686.6" y2="1359.8" stroke="#4a8a3d" stroke-width="4"/>
<line x1="2686.6" y1="1359.8" x2="3109" y2="1359.8" stroke="#79bd6b" stroke-width="4"/>
<line x1="3109" y1="1359.8" x2="3321" y2="1359.8" stroke="#4a8a3d" stroke-width="4"/>
<circle cx="3446" cy="481.6" r="36" fill="rgb(40,40,40)" fill-opacity="0.5"/>
<rect x="3431.6" y="468.2" width="11.6" height="11.6" rx="2.5" fill="none" stroke="#c16b84" stroke-width="2.5"/>
<rect x="3431.6" y="486.2" width="11.6" height="11.6" rx="2.5" fill="none" stroke="#c16b84" stroke-width="2.5"/>
<rect x="3449.3" y="486.2" width="11.6" height="11.6" rx="2.5" fill="none" stroke="#c16b84" stroke-width="2.5"/>
<path d="M3454.6 464.2 Q3456.316 470.284 3462.4 472 Q3456.316 473.716 3454.6 479.8 Q3452.884 473.716 3446.7999999999997 472 Q3452.884 470.284 3454.6 464.2 Z" fill="#c16b84"/>
<path d="M3446 537.4 H3490 V609.5 H3446 A36 36 0 0 1 3446 537.4 Z" fill="rgb(40,40,40)" fill-opacity="0.5"/>
<circle cx="3448.1" cy="574" r="28" fill="#a45b70"/>
<path d="M3440.1 557.1999999999999 Q3442.344 565.156 3450.2999999999997 567.4 Q3442.344 569.644 3440.1 577.6 Q3437.8559999999998 569.644 3429.9 567.4 Q3437.8559999999998 565.156 3440.1 557.1999999999999 Z" fill="#c9c9ce"/>
<path d="M3449 563.8 H3458.5 a2.5 2.5 0 0 1 2.5 2.5 V569 M3435.8 578 V585 a2.5 2.5 0 0 0 2.5 2.5 H3442.8" fill="none" stroke="#c9c9ce" stroke-width="4.4"/>
<path d="M3449.8 590.3 L3456.4 573 H3458 L3464.5 590.3 M3452.5 584.5 H3462" fill="none" stroke="#c9c9ce" stroke-width="4.2"/>
</g>
</svg></body></html>
